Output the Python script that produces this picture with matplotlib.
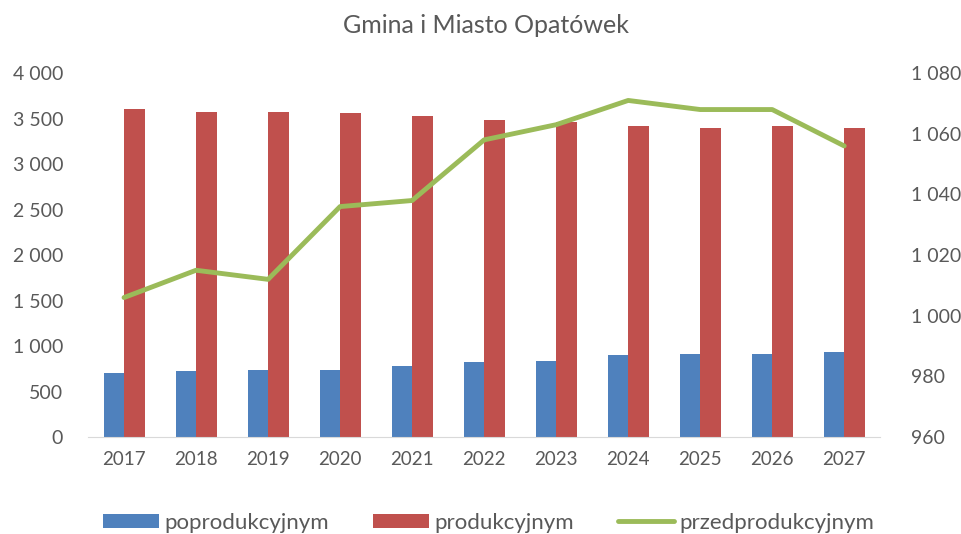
import numpy as np
import matplotlib.pyplot as plt
from matplotlib.ticker import FuncFormatter, MultipleLocator

years = ["2017", "2018", "2019", "2020", "2021", "2022", "2023", "2024", "2025", "2026", "2027"]
poprodukcyjnym = [700, 725, 740, 740, 784, 824, 839, 897, 908, 908, 938]
produkcyjnym = [3601, 3568, 3568, 3557, 3527, 3487, 3458, 3414, 3399, 3414, 3399]
przedprodukcyjnym = [1006, 1015, 1012, 1036, 1038, 1058, 1063, 1071, 1068, 1068, 1056]

BLUE = "#4F81BD"
RED = "#C0504D"
GREEN = "#9BBB59"
TEXT = "#595959"

plt.rcParams["font.family"] = ["Lato", "DejaVu Sans"]


def spaced(v, pos):
    return f"{int(v):,}".replace(",", " ")


fig = plt.figure(figsize=(9.62, 5.34), dpi=100)
ax = fig.add_axes([0.0915, 0.1816, 0.8235, 0.6814])
ax2 = ax.twinx()

x = np.arange(len(years))
w = 0.285
ax.bar(x - w / 2, poprodukcyjnym, width=w, color=BLUE, label="poprodukcyjnym", zorder=2)
ax.bar(x + w / 2, produkcyjnym, width=w, color=RED, label="produkcyjnym", zorder=2)
ax2.plot(x, przedprodukcyjnym, color=GREEN, linewidth=3.5, label="przedprodukcyjnym",
         solid_capstyle="round", solid_joinstyle="round")

ax.set_xlim(-0.5, len(years) - 0.5)
ax.set_ylim(0, 4000)
ax.yaxis.set_major_locator(MultipleLocator(500))
ax.yaxis.set_major_formatter(FuncFormatter(spaced))
ax2.set_ylim(960, 1080)
ax2.yaxis.set_major_locator(MultipleLocator(20))
ax2.yaxis.set_major_formatter(FuncFormatter(spaced))

ax.set_xticks(x)
ax.set_xticklabels(years)

for a in (ax, ax2):
    for s in ["top", "left", "right"]:
        a.spines[s].set_visible(False)
    a.spines["bottom"].set_color("#D9D9D9")
    a.tick_params(length=0, colors=TEXT, labelsize=14)
ax2.spines["bottom"].set_visible(False)
ax.tick_params(axis="x", pad=10, labelsize=13.5)
ax.tick_params(axis="y", pad=18)
ax2.tick_params(axis="y", pad=22)

fig.text(0.505, 0.953, "Gmina i Miasto Opatówek", ha="center", va="center",
         fontsize=18, color=TEXT)

h1, l1 = ax.get_legend_handles_labels()
h2, l2 = ax2.get_legend_handles_labels()
fig.legend(h1 + h2, l1 + l2, loc="lower center", bbox_to_anchor=(0.508, -0.035), ncol=3,
           frameon=False, fontsize=16, labelcolor=TEXT, handlelength=2.5,
           handleheight=0.55, handletextpad=0.25, columnspacing=2.0)

fig.savefig("out.png", dpi=100, facecolor="white")
